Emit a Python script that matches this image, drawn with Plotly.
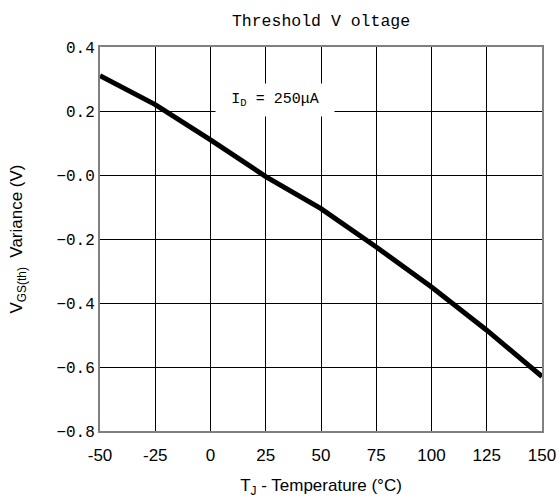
import plotly.graph_objects as go

temps = [-50, -25, 0, 25, 50, 75, 100, 125, 150]
variance = [0.31, 0.22, 0.11, -0.005, -0.105, -0.225, -0.35, -0.485, -0.63]

x_ticks = [-50, -25, 0, 25, 50, 75, 100, 125, 150]
x_labels = ["-50", "-25", "0", "25", "50", "75", "100", "125", "150"]
y_ticks = [0.4, 0.2, 0.0, -0.2, -0.4, -0.6, -0.8]
y_labels = ["0.4", "0.2", "\u22120.0", "\u22120.2", "\u22120.4", "\u22120.6", "\u22120.8"]

serif_mono = "Liberation Mono"
sans = "Liberation Sans, Arial"

fig = go.Figure()
fig.add_trace(go.Scatter(
    x=temps, y=variance, mode="lines",
    line=dict(color="black", width=5),
    showlegend=False, hoverinfo="skip",
))

fig.update_layout(
    width=559, height=500,
    margin=dict(l=100, r=17, t=47, b=69),
    paper_bgcolor="white", plot_bgcolor="white",
    title=dict(text="Threshold V oltage", x=0.5, xref="paper", xanchor="center",
               y=1 - 20 / 500, yref="container", yanchor="middle",
               font=dict(family=serif_mono, size=16.5, color="black")),
    xaxis=dict(
        range=[-50, 150], tickvals=x_ticks, ticktext=x_labels,
        showgrid=True, gridcolor="black", gridwidth=1,
        showline=True, mirror=True, linecolor="#808080", linewidth=2,
        zeroline=False, ticks="", ticklabelstandoff=8, automargin=False,
        tickfont=dict(family=sans, size=17, color="black"),
        title=dict(text="T<sub>J</sub> - Temperature (\u00b0C)", standoff=15,
                   font=dict(family=sans, size=17, color="black")),
    ),
    yaxis=dict(
        range=[-0.8, 0.4], tickvals=y_ticks, ticktext=y_labels,
        showgrid=True, gridcolor="black", gridwidth=1,
        showline=True, mirror=True, linecolor="#808080", linewidth=2,
        zeroline=False, ticks="", ticklabelstandoff=0, automargin=False,
        tickfont=dict(family=serif_mono, size=16, color="black"),
        title=dict(text="V<sub>GS(th)</sub>  Variance (V)", standoff=29,
                   font=dict(family=sans, size=17, color="black")),
    ),
)

fig.add_annotation(
    x=29, y=0.233, xref="x", yref="y",
    text="I<sub>D</sub> = 250\u03bcA", showarrow=False,
    font=dict(family=serif_mono, size=15, color="black"),
    bgcolor="white", width=116, height=30, align="center",
)

fig.write_html(
    "out.html",
    config={"displayModeBar": False},
    post_script="document.body.style.margin='0';document.body.style.overflow='hidden';",
)
